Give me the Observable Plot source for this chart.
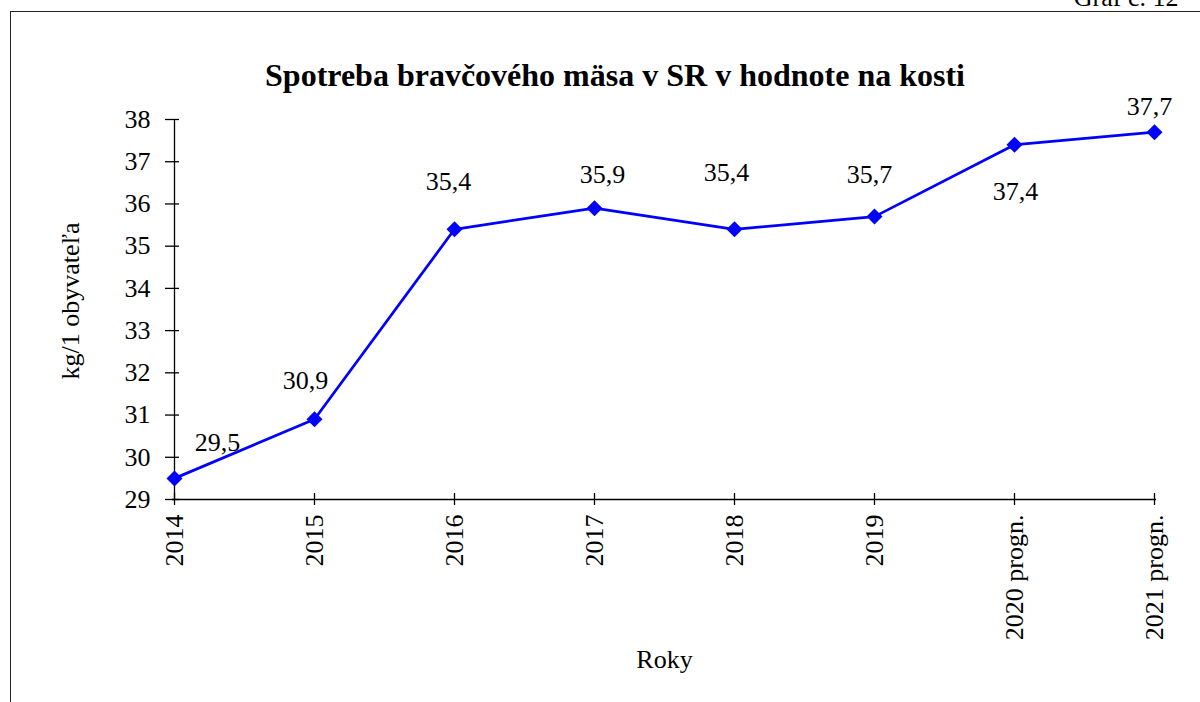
<!DOCTYPE html>
<html><head><meta charset="utf-8">
<script src="https://cdn.jsdelivr.net/npm/d3@7"></script>
<script src="https://cdn.jsdelivr.net/npm/@observablehq/plot@0.6"></script>
<style>
body{margin:0;background:#fff;}
#wrap{position:relative;width:1200px;height:702px;overflow:hidden;background:#fff;}
#frame{position:absolute;left:9.5px;top:11px;width:1400px;height:900px;border:1.5px solid #222;pointer-events:none;}
#chart svg, #chart svg text{font-family:"Liberation Serif", serif !important;}
</style></head><body>
<div id="wrap"><div id="chart"></div><div id="frame"></div></div>
<script>
const years = ["2014","2015","2016","2017","2018","2019","2020 progn.","2021 progn."];
const values = [29.5, 30.9, 35.4, 35.9, 35.4, 35.7, 37.4, 37.7];
const valueLabels = ["29,5","30,9","35,4","35,9","35,4","35,7","37,4","37,7"];
const yTicks = [29, 30, 31, 32, 33, 34, 35, 36, 37, 38];
const titleText = "Spotreba bravčového mäsa v SR v hodnote na kosti";
const yLabelText = "kg/1 obyvateľa";
const xLabelText = "Roky";
const chartNumber = "Graf č. 12";
// label offsets (style, in pixels)
const labelDx = [43, -9, -6, 8, -8, -5, 1, -5];
const labelDy = [-36, -39, -48, -33, -57, -42, 47, -25];

const data = years.map((y, i) => ({year: y, value: values[i], label: valueLabels[i]}));
const BLUE = "#0000ff";
const W = 1200, H = 702, ML = 172, MR = 44, MT = 119, MB = 203;
const FW = W - ML - MR, FH = H - MT - MB;

const plot = Plot.plot({
  width: W, height: H,
  marginLeft: ML, marginRight: MR, marginTop: MT, marginBottom: MB,
  style: {fontFamily: "Liberation Serif", fontSize: "26px", color: "#000", background: "transparent", overflow: "visible"},
  x: {type: "point", domain: years, padding: 0, label: null},
  y: {domain: [29, 38], label: null},
  marks: [
    Plot.axisY({ticks: yTicks, tickSize: 0, tickPadding: 22, label: null, tickFormat: d => String(d)}),
    Plot.axisX({tickSize: 0, tickPadding: 15, tickRotate: -90, label: null}),
    Plot.ruleX([years[0]], {x: d => d, stroke: "#000", strokeWidth: 1.3}),
    Plot.ruleY([yTicks[0]], {y: d => d, stroke: "#000", strokeWidth: 1.3}),
    Plot.ruleY(yTicks, {y: d => d, insetRight: FW - 14, dx: -7, stroke: "#000", strokeWidth: 1.3}),
    Plot.ruleX(years, {x: d => d, insetTop: FH - 12, dy: 6, stroke: "#000", strokeWidth: 1.3}),
    Plot.line(data, {x: "year", y: "value", stroke: BLUE, strokeWidth: 2.75}),
    Plot.dot(data, {x: "year", y: "value", symbol: "diamond2", r: 7.2, fill: BLUE, stroke: null}),
    ...data.map((d, i) => Plot.text([d], {x: "year", y: "value", text: "label", dx: labelDx[i], dy: labelDy[i], lineAnchor: "middle", fill: "#000"})),
    Plot.text([titleText], {text: d => d, frameAnchor: "top", lineAnchor: "bottom", dx: -49.5, dy: -34, fontSize: 32, fontWeight: "bold", fill: "#000"}),
    Plot.text([yLabelText], {text: d => d, frameAnchor: "left", rotate: -90, dx: -102, dy: 70, fill: "#000"}),
    Plot.text([xLabelText], {text: d => d, frameAnchor: "bottom", lineAnchor: "bottom", dy: 168, fill: "#000"}),
    Plot.text([chartNumber], {text: d => d, frameAnchor: "top-right", textAnchor: "end", lineAnchor: "bottom", dx: 22, dy: -114, fill: "#000"})
  ]
});
document.getElementById("chart").appendChild(plot);
</script>
</body></html>
